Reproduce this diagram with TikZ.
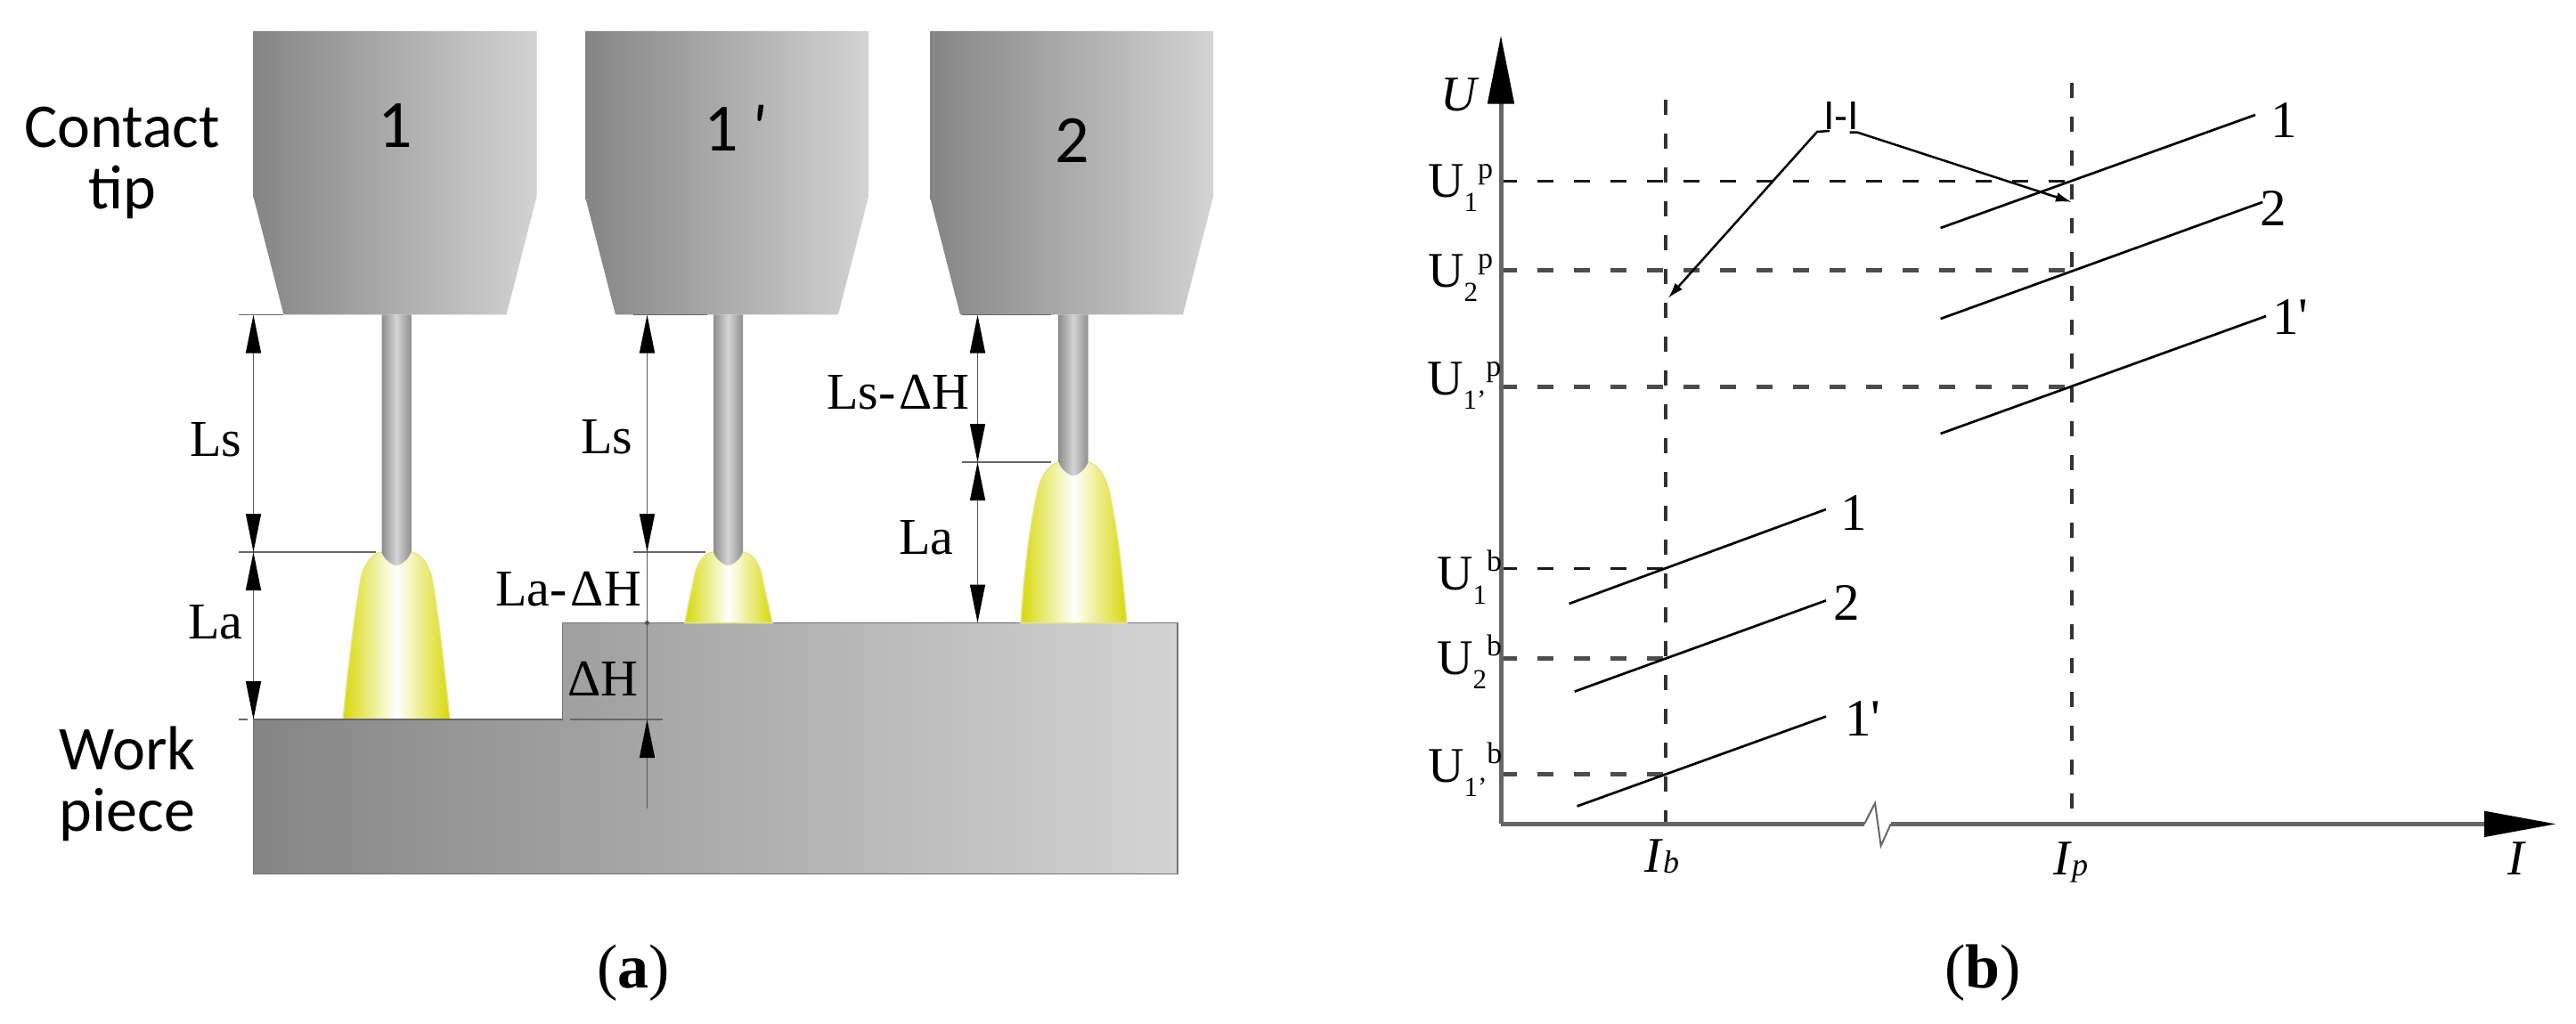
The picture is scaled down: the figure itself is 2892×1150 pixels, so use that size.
\documentclass[tikz,border=0pt]{standalone}
\usepackage{fontspec}
\usepackage{tikz}
\usetikzlibrary{arrows.meta}
\setmainfont{Liberation Serif}
\newfontfamily\tipfont{Carlito}
\newfontfamily\barfont{Liberation Sans}

\definecolor{tipdark}{HTML}{858585}
\definecolor{tiplight}{HTML}{D3D3D3}
\definecolor{wireedge}{HTML}{8E8E8E}
\definecolor{wiremid}{HTML}{D4D4D4}
\definecolor{flameyellow}{HTML}{D8D80A}
\definecolor{flameedge}{HTML}{E6E68C}
\definecolor{axisgray}{HTML}{666666}

\newcommand{\voltlabel}[2]{U\raisebox{-16pt}{\fontsize{31}{31}\selectfont #1}\raisebox{21pt}{\fontsize{34}{34}\selectfont #2}}
\newcommand{\currlabel}[1]{\textit{I}\raisebox{-1pt}{\fontsize{36}{36}\selectfont\textit{#1}}}

\tikzset{
    txt/.style={inner sep=0pt, anchor=base west},
    dimtxt/.style={txt, font=\fontsize{58}{60}\selectfont},
    sidetxt/.style={inner sep=0pt, align=center, font=\tipfont\fontsize{70}{69}\selectfont},
    tipnum/.style={inner sep=0pt, anchor=base, font=\tipfont\fontsize{76}{76}\selectfont},
    curvetxt/.style={txt, font=\fontsize{59}{60}\selectfont},
    volttxt/.style={txt, font=\fontsize{56}{56}\selectfont},
    currtxt/.style={txt, font=\fontsize{56}{56}\selectfont},
    captxt/.style={inner sep=0pt, anchor=base, font=\fontsize{70}{70}\selectfont},
    tipbody/.style={left color=tipdark, right color=tiplight},
    wirebody/.style={left color=wireedge, right color=wireedge, middle color=wiremid},
    flamebody/.style={left color=flameyellow, right color=flameyellow, middle color=white, draw=flameedge, line width=1.5pt},
    piecebody/.style={left color=tipdark, right color=tiplight, draw=black!55, line width=1.5pt},
    extline/.style={draw=black!60, line width=1.6pt},
    dimline/.style={draw=black!65, line width=1.5pt},
    dimarrow/.style={dimline, {Triangle[length=43pt,width=17pt,color=black]}-{Triangle[length=43pt,width=17pt,color=black]}},
    uparrow/.style={dimline, -{Triangle[length=43pt,width=17pt,color=black]}},
    axisline/.style={draw=axisgray, line width=5pt},
    breakline/.style={draw=axisgray, line width=2pt},
    vdash/.style={draw=black!80, line width=3.5pt, dash pattern=on 17pt off 21pt},
    hthin/.style={draw=black!90, line width=2.5pt, dash pattern=on 18pt off 23pt},
    hthick/.style={draw=black!70, line width=5pt, dash pattern=on 18pt off 23pt},
    curveline/.style={draw=black, line width=2.7pt},
    leader/.style={draw=black, line width=2.5pt},
}

\begin{document}
\begin{tikzpicture}[x=1pt, y=-1pt]
    \useasboundingbox (0,0) rectangle (2892,1150);

    \foreach \tipx in {284.5,657,1044} {
        \shade[tipbody] (\tipx,35) -- (\tipx+318,35) -- (\tipx+318,221) -- (\tipx+284,353.5) -- (\tipx+34,353.5) -- (\tipx,221) -- cycle;
    }
    \shade[piecebody] (284.5,808) -- (631.5,808) -- (631.5,699.5) -- (1322,699.5) -- (1322,981.5) -- (284.5,981.5) -- cycle;

    \shade[flamebody] (385,808) .. controls (392,740) and (398,690) .. (405,650) .. controls (409,632) and (418,622) .. (428,620) -- (462,620) .. controls (472,622) and (481,632) .. (485,650) .. controls (492,690) and (498,740) .. (505,808) -- cycle;
    \shade[flamebody] (769,699.5) .. controls (772,680) and (776,665) .. (779,650) .. controls (782,632) and (790,622) .. (800,620) -- (835,620) .. controls (845,622) and (853,632) .. (856,650) .. controls (859,665) and (863,680) .. (867,699.5) -- cycle;
    \shade[flamebody] (1146,699.5) .. controls (1150,640) and (1155,600) .. (1163,560) .. controls (1167,535) and (1177,522) .. (1188,519) -- (1222,519) .. controls (1233,522) and (1243,535) .. (1247,560) .. controls (1255,600) and (1260,640) .. (1265,699.5) -- cycle;

    \foreach \wirex/\wireend in {445/620,817.5/620,1205/519} {
        \shade[wirebody] (\wirex-16.5,353.5) -- (\wirex+16.5,353.5) -- (\wirex+16.5,\wireend) .. controls (\wirex+14,\wireend+8) and (\wirex+5,\wireend+15) .. (\wirex,\wireend+15) .. controls (\wirex-5,\wireend+15) and (\wirex-14,\wireend+8) .. (\wirex-16.5,\wireend) -- cycle;
    }

    \foreach \xa/\xb/\ya in {268/318/353.5,268/422/620,268/278/808,284.5/631/808,711/794/353.5,711/792/620,640/744/808,1080/1180/353.5,1080/1180/519,1080/1139/699.5} {
        \draw[extline] (\xa,\ya) -- (\xb,\ya);
    }

    \coordinate (dimAtop) at (284.5,353.5);
    \coordinate (dimAmid) at (284.5,620);
    \coordinate (dimAlow) at (284.5,808);
    \coordinate (dimBtop) at (726.5,353.5);
    \coordinate (dimBmid) at (726.5,620);
    \coordinate (dimBlow) at (726.5,808);
    \coordinate (dimBend) at (726.5,907.5);
    \coordinate (dimCtop) at (1097.5,353.5);
    \coordinate (dimCmid) at (1097.5,519);
    \coordinate (dimClow) at (1097.5,699.5);

    \draw[dimarrow] (dimAtop) -- (dimAmid);
    \draw[dimarrow] (dimAmid) -- (dimAlow);
    \draw[dimarrow] (dimBtop) -- (dimBmid);
    \draw[dimline] (dimBmid) -- (dimBlow);
    \draw[uparrow] (dimBend) -- (dimBlow);
    \draw[dimarrow] (dimCtop) -- (dimCmid);
    \draw[dimarrow] (dimCmid) -- (dimClow);
    \node[circle, fill=black!70, inner sep=0pt, minimum size=5pt] (stepdot) at (726.5,699.5) {};

    \node[tipnum] (numA) at (444,166) {1};
    \node[tipnum] (numB) at (825,170) {1\hspace{14pt}\textit{\textquotesingle}};
    \node[tipnum] (numC) at (1204,183) {2};
    \node[sidetxt] (tipname) at (137,183) {Contact\\tip};
    \node[sidetxt] (workname) at (143,880) {Work\\piece};

    \node[dimtxt] (lsA) at (213,512) {Ls};
    \node[dimtxt] (laA) at (211,717) {La};
    \node[dimtxt] (lsB) at (652,509) {Ls};
    \node[dimtxt] (laB) at (556,680) {La-$\,$ΔH};
    \node[dimtxt] (dH) at (637,781) {ΔH};
    \node[dimtxt] (lsC) at (928,459) {Ls-$\,$ΔH};
    \node[dimtxt] (laC) at (1009,622) {La};
    \node[captxt] (capA) at (711,1109) {(\textbf{a})};
    \node[captxt] (capB) at (2226,1109) {(\textbf{b})};

    \coordinate (origin) at (1685,925.4);
    \coordinate (ytip) at (1685,39.6);
    \coordinate (xtip) at (2870,925.4);
    \coordinate (brkL) at (2093,925.4);
    \coordinate (brkA) at (2105,902);
    \coordinate (brkB) at (2111.6,950);
    \coordinate (brkR) at (2122.7,925.4);
    \coordinate (lowtop) at (1870,112);
    \coordinate (lowbot) at (1870,925.4);
    \coordinate (hightop) at (2326,93);
    \coordinate (highbot) at (2326,925.4);

    \draw[vdash] (lowtop) -- (lowbot);
    \draw[vdash] (hightop) -- (highbot);

    \foreach \ylev/\hstyle in {203.6/hthin,303.8/hthick,434/hthick} {
        \draw[\hstyle] (1685,\ylev) -- (2326,\ylev);
    }
    \foreach \ylev/\hstyle in {638.6/hthin,739/hthick,869/hthick} {
        \draw[\hstyle] (1685,\ylev) -- (1870,\ylev);
    }

    \draw[axisline, -{Triangle[length=77pt,width=29pt,color=black]}] (origin) -- (ytip);
    \draw[axisline] (origin) -- (brkL);
    \draw[breakline] (brkL) -- (brkA) -- (brkB) -- (brkR);
    \draw[axisline, -{Triangle[length=81pt,width=28pt,color=black]}] (brkR) -- (xtip);

    \coordinate (pAs) at (2178.6,256);
    \coordinate (pAe) at (2532,129);
    \coordinate (pBs) at (2178.6,358);
    \coordinate (pBe) at (2540,227);
    \coordinate (pCs) at (2178.6,487);
    \coordinate (pCe) at (2544,355);
    \coordinate (bAs) at (1761.6,678);
    \coordinate (bAe) at (2050,572);
    \coordinate (bBs) at (1767.7,776.6);
    \coordinate (bBe) at (2050,674.4);
    \coordinate (bCs) at (1770.6,905.4);
    \coordinate (bCe) at (2050,804.6);

    \draw[curveline] (pAs) -- (pAe);
    \draw[curveline] (pBs) -- (pBe);
    \draw[curveline] (pCs) -- (pCe);
    \draw[curveline] (bAs) -- (bAe);
    \draw[curveline] (bBs) -- (bBe);
    \draw[curveline] (bCs) -- (bCe);

    \node[curvetxt] (txtpA) at (2549,155) {1};
    \node[curvetxt] (txtpB) at (2537,254) {2};
    \node[curvetxt] (txtpC) at (2551,375) {1\textquotesingle};
    \node[curvetxt] (txtbA) at (2066,595) {1};
    \node[curvetxt] (txtbB) at (2058,696.5) {2};
    \node[curvetxt] (txtbC) at (2071,826) {1\textquotesingle};

    \node[txt, font=\barfont\fontsize{45}{45}\selectfont] (iibar) at (2047,146) {I-I};
    \coordinate (iiLa) at (2054,147);
    \coordinate (iiLb) at (2040,148);
    \coordinate (iiLtip) at (1872.6,335);
    \coordinate (iiRa) at (2076.6,148.6);
    \coordinate (iiRb) at (2085,148.6);
    \coordinate (iiRtip) at (2326,227);
    \draw[leader, -{Latex[length=18pt,width=11pt]}] (iiLa) -- (iiLb) -- (iiLtip);
    \draw[leader, -{Latex[length=18pt,width=11pt]}] (iiRa) -- (iiRb) -- (iiRtip);

    \node[volttxt] (uaxis) at (1617,125) {\textit{U}};
    \node[volttxt] (uAp) at (1603,222) {\voltlabel{1}{p}};
    \node[volttxt] (uBp) at (1603,323) {\voltlabel{2}{p}};
    \node[volttxt] (uCp) at (1602,443) {\voltlabel{1'}{p}};
    \node[volttxt] (uAb) at (1613,662) {\voltlabel{1}{b}};
    \node[volttxt] (uBb) at (1613,757) {\voltlabel{2}{b}};
    \node[volttxt] (uCb) at (1603,878) {\voltlabel{1'}{b}};
    \node[currtxt] (ib) at (1846,979) {\currlabel{b}};
    \node[currtxt] (ip) at (2305,982) {\currlabel{p}};
    \node[currtxt] (iaxis) at (2815,982) {\textit{I}};
\end{tikzpicture}
\end{document}
